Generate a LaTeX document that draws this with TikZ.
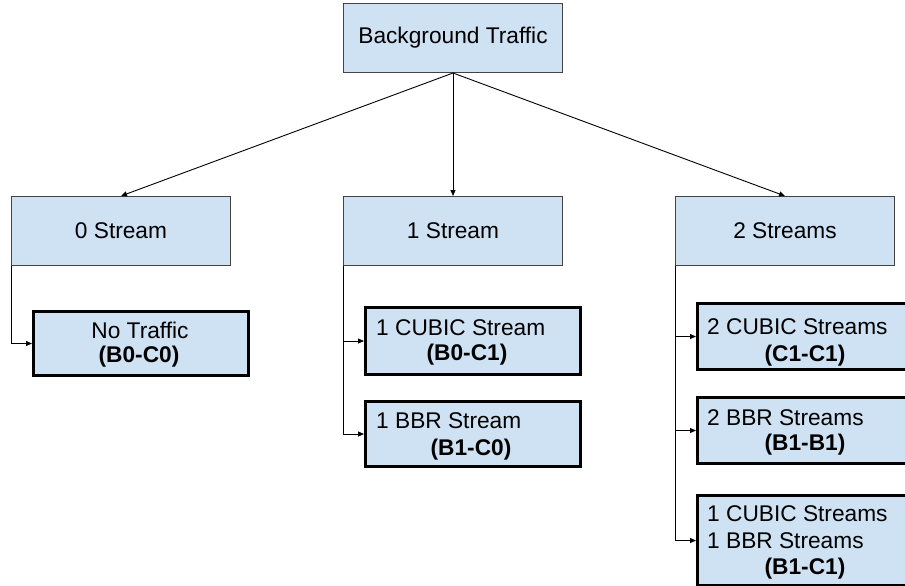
\documentclass[tikz,border=0pt]{standalone}
\usepackage{fontspec}
\setmainfont{Liberation Sans}
\usetikzlibrary{arrows.meta}
\definecolor{boxfill}{HTML}{CFE2F3}
\definecolor{boxline}{HTML}{434343}

\begin{document}
\begin{tikzpicture}[x=1pt,y=-1pt,
  font=\fontsize{22.7}{27}\selectfont,
  catbox/.style={draw=boxline, line width=1pt, fill=boxfill, inner sep=0pt,
    anchor=north west, minimum width=219pt, minimum height=69pt},
  leafbox/.style={draw=black, line width=3pt, fill=boxfill, inner sep=0pt,
    anchor=north west, minimum width=215pt},
  lbl/.style={inner sep=0pt, anchor=base west},
  code/.style={inner sep=0pt, anchor=base, font=\fontsize{22.7}{27}\selectfont\bfseries},
  link/.style={draw=black, line width=0.9pt, -{Triangle[length=6pt,width=5pt]}}]

\clip (0,0) rectangle (905,586);

% top level and the three categories
\node[catbox] (bg) at (343,3) {Background Traffic};
\node[catbox] (s0) at (11,196) {0 Stream};
\node[catbox] (s1) at (343,196) {1 Stream};
\node[catbox] (s2) at (675,196) {2 Streams};

% leaf cases
\node[leafbox, minimum height=64pt] (nt) at (32,310) {};
\node[leafbox, minimum height=67pt] (c1) at (364,306) {};
\node[leafbox, minimum height=65pt] (b1) at (364,400) {};
\node[leafbox, minimum height=66pt] (cc) at (696,302) {};
\node[leafbox, minimum height=66pt] (bb) at (696,396) {};
\node[leafbox, minimum height=90pt] (cb) at (696,494) {};

% leaf texts
\node[lbl, anchor=base] (ntA) at (140,338) {No Traffic};
\node[code] (ntB) at (139,362) {(B0-C0)};
\node[lbl] (c1A) at (376,335) {1 CUBIC Stream};
\node[code] (c1B) at (467,360) {(B0-C1)};
\node[lbl] (b1A) at (376,428) {1 BBR Stream};
\node[code] (b1B) at (471,455) {(B1-C0)};
\node[lbl] (ccA) at (707,334) {2 CUBIC Streams};
\node[code] (ccB) at (805,361) {(C1-C1)};
\node[lbl] (bbA) at (707,425) {2 BBR Streams};
\node[code] (bbB) at (805,450) {(B1-B1)};
\node[lbl] (cbA) at (707,521) {1 CUBIC Streams};
\node[lbl] (cbB) at (707,548) {1 BBR Streams};
\node[code] (cbC) at (805,574) {(B1-C1)};

% connectors
\draw[link] (bg.south) -- (s0.north);
\draw[link] (bg.south) -- (s1.north);
\draw[link] (bg.south) -- (s2.north);
\draw[link] (s0.south west) |- (nt.west);
\draw[link] (s1.south west) |- (c1.west);
\draw[link] (s1.south west) |- (b1.west);
\draw[link] (s2.south west) |- (cc.west);
\draw[link] (s2.south west) |- (bb.west);
\draw[link] (s2.south west) |- (cb.west);
\end{tikzpicture}
\end{document}
